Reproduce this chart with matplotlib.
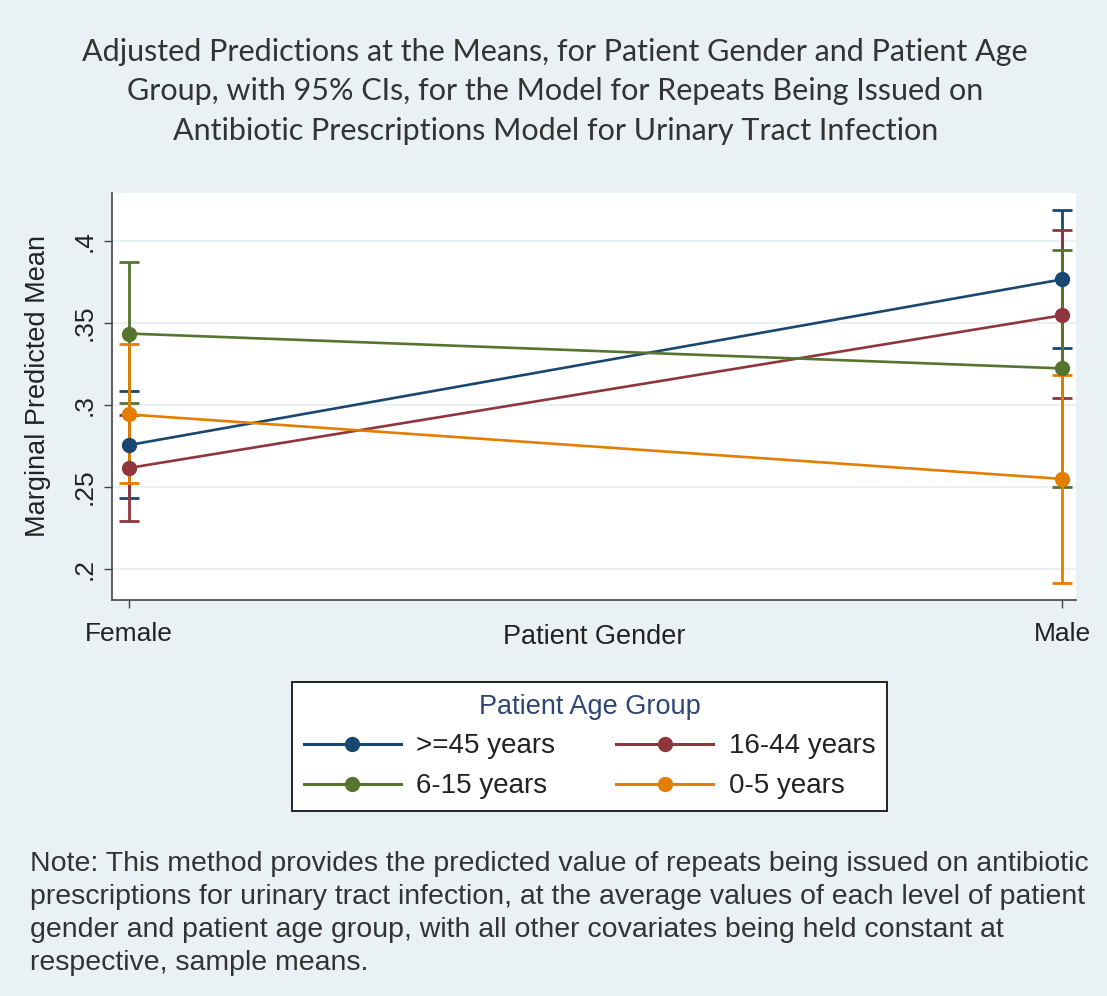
import matplotlib
matplotlib.use("Agg")
import matplotlib.pyplot as plt
from matplotlib.lines import Line2D
from matplotlib import font_manager

# --- data ---------------------------------------------------------------
genders = ["Female", "Male"]
age_groups = [">=45 years", "16-44 years", "6-15 years", "0-5 years"]
pred = {
    ">=45 years":  [0.2756, 0.3768],
    "16-44 years": [0.2616, 0.3549],
    "6-15 years":  [0.3437, 0.3224],
    "0-5 years":   [0.2943, 0.2549],
}
ci_low = {
    ">=45 years":  [0.2433, 0.3350],
    "16-44 years": [0.2293, 0.3041],
    "6-15 years":  [0.3010, 0.2502],
    "0-5 years":   [0.2526, 0.1913],
}
ci_high = {
    ">=45 years":  [0.3087, 0.4189],
    "16-44 years": [0.2939, 0.4067],
    "6-15 years":  [0.3874, 0.3949],
    "0-5 years":   [0.3372, 0.3183],
}
y_ticks = [0.2, 0.25, 0.3, 0.35, 0.4]
y_tick_labels = [".2", ".25", ".3", ".35", ".4"]

title_text = ("Adjusted Predictions at the Means, for Patient Gender and Patient Age\n"
              "Group, with 95% CIs, for the Model for Repeats Being Issued on\n"
              "Antibiotic Prescriptions Model for Urinary Tract Infection")
note_text = ("Note: This method provides the predicted value of repeats being issued on antibiotic\n"
             "prescriptions for urinary tract infection, at the average values of each level of patient\n"
             "gender and patient age group, with all other covariates being held constant at\n"
             "respective, sample means.")

# --- style --------------------------------------------------------------
colors = {
    ">=45 years": "#1a476f",
    "16-44 years": "#90353b",
    "6-15 years": "#55752f",
    "0-5 years": "#e37e00",
}
bg = "#eaf1f4"
text_col = "#222222"

available = {f.name for f in font_manager.fontManager.ttflist}
narrow = "Liberation Sans Narrow" if "Liberation Sans Narrow" in available else "Liberation Sans"
title_font = "Lato" if "Lato" in available else "DejaVu Sans"
axis_font = "Liberation Sans"

fig = plt.figure(figsize=(11.07, 9.96), dpi=100, facecolor=bg)
ax = fig.add_axes([0.1012, 0.3976, 0.8708, 0.4086])
ax.set_facecolor("white")

x = list(range(len(genders)))
for grp in age_groups:
    c = colors[grp]
    lo = [p - l for p, l in zip(pred[grp], ci_low[grp])]
    hi = [h - p for p, h in zip(pred[grp], ci_high[grp])]
    ax.errorbar(x, pred[grp], yerr=[lo, hi], fmt="none", ecolor=c,
                elinewidth=2.0, capsize=7.5, capthick=2.0, zorder=3)
for grp in age_groups:
    c = colors[grp]
    ax.plot(x, pred[grp], color=c, lw=1.9, marker="o", markersize=10,
            markeredgecolor=c, markerfacecolor=c, zorder=4)

ax.set_xlim(-0.018, 1.0145)
ax.set_ylim(0.181, 0.4295)
ax.set_yticks(y_ticks)
ax.set_yticklabels(y_tick_labels, rotation=90, va="center",
                   fontsize=19, family=axis_font, color=text_col)
ax.set_xticks(x)
ax.set_xticklabels(genders, fontsize=19, family=axis_font, color=text_col)
ax.tick_params(axis="y", length=6, width=1.0, color="#444444", pad=5)
ax.tick_params(axis="x", length=6, width=1.0, color="#444444", pad=10)
ax.grid(axis="y", color=bg, lw=1.5)
ax.set_axisbelow(True)
for side in ["top", "right"]:
    ax.spines[side].set_visible(False)
for side in ["left", "bottom"]:
    ax.spines[side].set_color("#444444")
    ax.spines[side].set_linewidth(1.2)

ax.set_ylabel("Marginal Predicted Mean", fontsize=19.5, family=axis_font,
              color=text_col)
ax.yaxis.set_label_coords(-0.063, 0.525)
ax.set_xlabel("Patient Gender", fontsize=19.5, family=axis_font,
              color=text_col, labelpad=-16)

fig.text(0.5015, 0.962, title_text, ha="center", va="top", fontsize=22,
         family=title_font, color="#333333", linespacing=1.5)

# legend: two rows, filled row-wise
legend_order = [">=45 years", "6-15 years", "16-44 years", "0-5 years"]
handles = [Line2D([0], [0], color=colors[g], lw=2.2, marker="o", markersize=10,
                  markerfacecolor=colors[g], markeredgecolor=colors[g])
           for g in legend_order]
leg = fig.legend(handles, legend_order, ncol=2, loc="center",
                 bbox_to_anchor=(0.5325, 0.2506), frameon=True,
                 title="Patient Age Group", handlelength=3.5,
                 columnspacing=2.2, handletextpad=0.55, labelspacing=0.5,
                 borderpad=0.42, borderaxespad=0, fancybox=False,
                 prop={"family": axis_font, "size": 20})
leg.get_frame().set_edgecolor("#222222")
leg.get_frame().set_facecolor("white")
leg.get_frame().set_alpha(1)
leg.get_frame().set_linewidth(1.4)
leg.get_title().set_color("#2d4577")
leg.get_title().set_fontsize(19.5)
leg.get_title().set_family(axis_font)
for t in leg.get_texts():
    t.set_color(text_col)

fig.text(0.027, 0.146, note_text, ha="left", va="top", fontsize=20.5,
         family=narrow, color="#333333", linespacing=1.36)

fig.savefig("out.png", dpi=100, facecolor=bg)
